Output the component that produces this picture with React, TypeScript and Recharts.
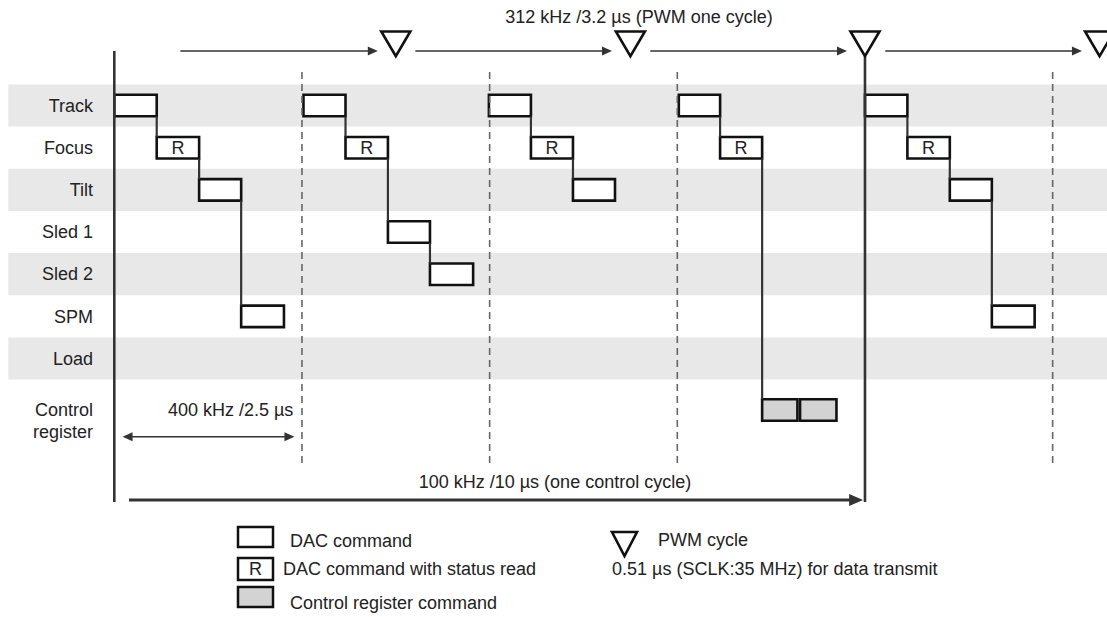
import React from "react";
import {
  ComposedChart,
  XAxis,
  YAxis,
  ReferenceArea,
  ReferenceLine,
  ReferenceDot,
} from "recharts";

// rows of the timing diagram (lane index on the y axis)
const ROW_NAMES = ["Track", "Focus", "Tilt", "Sled 1", "Sled 2", "SPM", "Load", "Control register"];
const ROW_TICKS = [0, 1, 2, 3, 4, 5, 6, 7.48];
const SHADED_ROWS = [0, 2, 4, 6];

// time marks, µs
const CYCLE_MARKS = [2.5, 5, 7.5, 12.5]; // 400 kHz, dashed
const CONTROL_MARKS = [0, 10]; // 100 kHz, solid
const PWM_MARKS = [3.75, 6.875, 10, 13.125]; // 312 kHz
const PWM_ARROWS: [number, number][] = [
  [0.88, 3.51],
  [4.01, 6.63],
  [7.14, 9.76],
  [10.27, 12.89],
];

type Kind = "dac" | "read" | "ctrl";
interface Cmd {
  cycle: number;
  lane: number;
  start: number;
  end: number;
  kind: Kind;
}

const COMMANDS: Cmd[] = [
  { cycle: 0, lane: 0, start: 0, end: 0.565, kind: "dac" },
  { cycle: 0, lane: 1, start: 0.565, end: 1.13, kind: "read" },
  { cycle: 0, lane: 2, start: 1.13, end: 1.69, kind: "dac" },
  { cycle: 0, lane: 5, start: 1.69, end: 2.26, kind: "dac" },

  { cycle: 1, lane: 0, start: 2.52, end: 3.08, kind: "dac" },
  { cycle: 1, lane: 1, start: 3.08, end: 3.645, kind: "read" },
  { cycle: 1, lane: 3, start: 3.645, end: 4.205, kind: "dac" },
  { cycle: 1, lane: 4, start: 4.205, end: 4.78, kind: "dac" },

  { cycle: 2, lane: 0, start: 4.99, end: 5.55, kind: "dac" },
  { cycle: 2, lane: 1, start: 5.55, end: 6.11, kind: "read" },
  { cycle: 2, lane: 2, start: 6.11, end: 6.67, kind: "dac" },

  { cycle: 3, lane: 0, start: 7.52, end: 8.07, kind: "dac" },
  { cycle: 3, lane: 1, start: 8.07, end: 8.63, kind: "read" },
  { cycle: 3, lane: 7.22, start: 8.63, end: 9.1, kind: "ctrl" },
  { cycle: 3, lane: 7.22, start: 9.135, end: 9.62, kind: "ctrl" },

  { cycle: 4, lane: 0, start: 10, end: 10.565, kind: "dac" },
  { cycle: 4, lane: 1, start: 10.565, end: 11.13, kind: "read" },
  { cycle: 4, lane: 2, start: 11.13, end: 11.69, kind: "dac" },
  { cycle: 4, lane: 5, start: 11.69, end: 12.26, kind: "dac" },
];

const TITLE = "312 kHz /3.2 µs (PWM one cycle)";
const CYCLE_TEXT = "400 kHz /2.5 µs";
const CONTROL_TEXT = "100 kHz /10 µs (one control cycle)";

const LEGEND_LEFT = ["DAC command", "DAC command with status read", "Control register command"];
const LEGEND_RIGHT = ["PWM cycle", "0.51 µs (SCLK:35 MHz) for data transmit"];

// layout
const W = 1107;
const H = 617;
const AXIS_W = 100;
const X_DOMAIN: [number, number] = [-0.1905, 13.224];
const Y_DOMAIN: [number, number] = [-2.502, 12.129];
const BOX_HALF = 0.255;
const TEXT = "#222";
const LINE = "#333";
const FONT = 18;

const boxFill = (k: Kind) => (k === "ctrl" ? "#d3d3d3" : "#fff");

const connectors = COMMANDS.slice(1)
  .map((c, i) => ({ prev: COMMANDS[i], next: c }))
  .filter(({ prev, next }) => prev.cycle === next.cycle && prev.lane !== next.lane)
  .map(({ prev, next }) => ({ t: prev.end, from: prev.lane + BOX_HALF, to: next.lane - BOX_HALF }));

interface ArrowOpts {
  w: number;
  head: number;
  half: number;
  both?: boolean;
}

const arrowShape = ({ w, head, half, both }: ArrowOpts) =>
  // eslint-disable-next-line @typescript-eslint/no-explicit-any
  (p: any) => {
    const { x1, x2, y1 } = p;
    const a = both ? x1 + head - 1 : x1;
    const b = x2 - head + 1;
    return (
      <g>
        <line x1={a} y1={y1} x2={b} y2={y1} stroke={LINE} strokeWidth={w} />
        <polygon points={`${x2},${y1} ${x2 - head},${y1 - half} ${x2 - head},${y1 + half}`} fill={LINE} />
        {both && (
          <polygon points={`${x1},${y1} ${x1 + head},${y1 - half} ${x1 + head},${y1 + half}`} fill={LINE} />
        )}
      </g>
    );
  };

// eslint-disable-next-line @typescript-eslint/no-explicit-any
const Triangle = (p: any) => {
  const { cx, cy } = p;
  return (
    <polygon
      points={`${cx - 14.5},${cy - 12.3} ${cx + 14.5},${cy - 12.3} ${cx},${cy + 12.3}`}
      fill="#fff"
      stroke="#111"
      strokeWidth={2.6}
      strokeLinejoin="miter"
    />
  );
};

// eslint-disable-next-line @typescript-eslint/no-explicit-any
const RowTick = (p: any) => {
  const { x, y, payload } = p;
  const idx = ROW_TICKS.indexOf(payload.value);
  const name = ROW_NAMES[idx] ?? "";
  const parts = idx === 7 ? ["Control", "register"] : [name];
  const first = parts.length > 1 ? -11 : 0;
  return (
    <text x={x} y={y} textAnchor="end" fill={TEXT} fontSize={FONT}>
      {parts.map((s, k) => (
        <tspan key={s} x={x} dy={k === 0 ? first + 6.3 : 22}>
          {s}
        </tspan>
      ))}
    </text>
  );
};

const textLabel = (value: string) => ({
  value,
  position: "center" as const,
  fill: TEXT,
  fontSize: FONT,
});

const Legend = () => (
  <svg width={W} height={H} style={{ position: "absolute", left: 0, top: 0, pointerEvents: "none" }}>
    <g fontSize={FONT} fill={TEXT}>
      <rect x={238} y={527} width={35} height={20} fill="#fff" stroke="#111" strokeWidth={2.5} />
      <text x={290} y={547}>{LEGEND_LEFT[0]}</text>
      <rect x={238} y={558} width={35} height={22} fill="#fff" stroke="#111" strokeWidth={2.5} />
      <text x={255.5} y={575} textAnchor="middle">R</text>
      <text x={283} y={575}>{LEGEND_LEFT[1]}</text>
      <rect x={238} y={587} width={35} height={20} fill="#d3d3d3" stroke="#111" strokeWidth={2.5} />
      <text x={290} y={609}>{LEGEND_LEFT[2]}</text>
      <polygon points="612,532 637,532 624.5,556" fill="#fff" stroke="#111" strokeWidth={2.6} />
      <text x={658} y={546}>{LEGEND_RIGHT[0]}</text>
      <text x={612} y={575}>{LEGEND_RIGHT[1]}</text>
    </g>
  </svg>
);

export default function App() {
  return (
    <div
      style={{
        position: "absolute",
        left: 0,
        top: 0,
        width: W,
        height: H,
        background: "#fff",
        fontFamily: "'Liberation Sans', Arial, sans-serif",
      }}
    >
      <ComposedChart width={W} height={H} margin={{ top: 0, right: 0, bottom: 0, left: 0 }}>
        <XAxis type="number" dataKey="t" domain={X_DOMAIN} allowDataOverflow hide />
        <YAxis
          type="number"
          domain={Y_DOMAIN}
          allowDataOverflow
          reversed
          width={AXIS_W}
          ticks={ROW_TICKS}
          interval={0}
          axisLine={false}
          tickLine={false}
          tickSize={7}
          tickMargin={0}
          tick={<RowTick />}
        />

        {SHADED_ROWS.map((r) => (
          <ReferenceArea
            key={`band-${r}`}
            x1={-1.412}
            x2={X_DOMAIN[1]}
            y1={r - 0.5}
            y2={r + 0.5}
            fill="#e8e8e8"
            fillOpacity={1}
            stroke="none"
            ifOverflow="visible"
          />
        ))}

        {CYCLE_MARKS.map((t) => (
          <ReferenceLine
            key={`cyc-${t}`}
            segment={[
              { x: t, y: -0.794 },
              { x: t, y: 8.565 },
            ]}
            stroke="#666"
            strokeWidth={1.6}
            strokeDasharray="7 5"
            ifOverflow="visible"
          />
        ))}

        {connectors.map((c, i) => (
          <ReferenceLine
            key={`con-${i}`}
            segment={[
              { x: c.t, y: c.from },
              { x: c.t, y: c.to },
            ]}
            stroke={LINE}
            strokeWidth={2.2}
            ifOverflow="visible"
          />
        ))}

        {COMMANDS.map((c, i) => (
          <ReferenceArea
            key={`cmd-${i}`}
            x1={c.start}
            x2={c.end}
            y1={c.lane - BOX_HALF}
            y2={c.lane + BOX_HALF}
            fill={boxFill(c.kind)}
            fillOpacity={1}
            stroke="#111"
            strokeWidth={2.6}
            ifOverflow="visible"
            label={c.kind === "read" ? textLabel("R") : undefined}
          />
        ))}

        {CONTROL_MARKS.map((t) => (
          <ReferenceLine
            key={`ctl-${t}`}
            segment={[
              { x: t, y: t === 0 ? -1.292 : -1.16 },
              { x: t, y: 9.4 },
            ]}
            stroke={LINE}
            strokeWidth={2.6}
            ifOverflow="visible"
          />
        ))}

        {PWM_ARROWS.map(([a, b]) => (
          <ReferenceLine
            key={`pa-${a}`}
            segment={[
              { x: a, y: -1.292 },
              { x: b, y: -1.292 },
            ]}
            shape={arrowShape({ w: 1.6, head: 10, half: 4.5 })}
            ifOverflow="visible"
          />
        ))}

        <ReferenceLine
          segment={[
            { x: 0.11, y: 7.854 },
            { x: 2.4, y: 7.854 },
          ]}
          shape={arrowShape({ w: 1.6, head: 10, half: 4.5, both: true })}
          ifOverflow="visible"
        />
        <ReferenceLine
          segment={[
            { x: 0.196, y: 9.355 },
            { x: 9.975, y: 9.355 },
          ]}
          shape={arrowShape({ w: 3, head: 14, half: 6 })}
          ifOverflow="visible"
        />

        {PWM_MARKS.map((t) => (
          <ReferenceDot key={`pwm-${t}`} x={t} y={-1.463} r={0} shape={<Triangle />} ifOverflow="visible" />
        ))}

        <ReferenceDot x={6.99} y={-2.1} r={0} fill="none" stroke="none" ifOverflow="visible" label={textLabel(TITLE)} />
        <ReferenceDot x={1.55} y={7.22} r={0} fill="none" stroke="none" ifOverflow="visible" label={textLabel(CYCLE_TEXT)} />
        <ReferenceDot x={5.87} y={8.93} r={0} fill="none" stroke="none" ifOverflow="visible" label={textLabel(CONTROL_TEXT)} />
      </ComposedChart>
      <Legend />
    </div>
  );
}
